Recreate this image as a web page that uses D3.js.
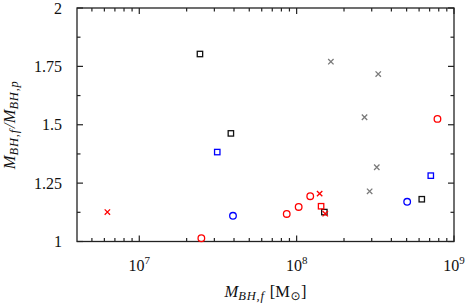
<!DOCTYPE html>
<html>
<head>
<meta charset="utf-8">
<script src="https://d3js.org/d3.v7.min.js"></script>
<style>
body{margin:0;background:#fff;}
text{font-family:"Liberation Serif",serif;fill:#111;}
</style>
</head>
<body>
<div id="chart"></div>
<script>
// data: [M_BH,f in Msun, M_BH,f / M_BH,p]
var greyCross   = [[1.65e8,1.770],[3.30e8,1.717],[2.70e8,1.532],[2.91e8,1.215],[3.23e8,1.318]];
var blackSquare = [[2.43e7,1.803],[3.82e7,1.463],[1.50e8,1.126],[6.24e8,1.181]];
var blueSquare  = [[3.13e7,1.383],[7.12e8,1.282]];
var blueCircle  = [[3.94e7,1.110],[5.04e8,1.170]];
var redCircle   = [[2.48e7,1.014],[8.65e7,1.118],[1.03e8,1.148],[1.22e8,1.194],[7.85e8,1.525]];
var redSquare   = [[1.43e8,1.151]];
var redCross    = [[6.27e6,1.126],[1.40e8,1.205],[1.52e8,1.119]];

var yTicks = [1,1.25,1.5,1.75,2];
var yMinor = [1.125,1.375,1.625,1.875];
var xMajor = [1e7,1e8,1e9];
var xExp = ["7","8","9"];

var series = [
	{pts:greyCross, shape:"cross", col:"#7a7a7a"},
	{pts:blackSquare, shape:"square", col:"#111111"},
	{pts:blueSquare, shape:"square", col:"#0000ff"},
	{pts:blueCircle, shape:"circle", col:"#0000ff"},
	{pts:redCircle, shape:"circle", col:"#ff0000"},
	{pts:redSquare, shape:"square", col:"#ff0000"},
	{pts:redCross, shape:"cross", col:"#ff0000"}
];

var W = 469, H = 304;
var pL = 77, pR = 454, pT = 8, pB = 241.5;

var x = d3.scaleLog().domain([4.02e6,1e9]).range([pL,pR]);
var y = d3.scaleLinear().domain([1,2]).range([pB,pT]);

var svg = d3.select("#chart").append("svg").attr("width",W).attr("height",H);

// minor x ticks 2..9 x 10^n
var xMinor = [];
[1e6,1e7,1e8].forEach(function(d){
	for(var k=2;k<10;k++){var v=d*k; if(v>=x.domain()[0] && v<1e9) xMinor.push(v);}
});

var ax = svg.append("g").attr("stroke","#222").attr("stroke-width",1.2);
function tickLines(vals, fn){
	vals.forEach(function(v){ var c=fn(v); ax.append("line").attr("x1",c[0]).attr("y1",c[1]).attr("x2",c[2]).attr("y2",c[3]); });
}
tickLines(xMinor, function(v){return [x(v),pB,x(v),pB-3.5]});
tickLines(xMinor, function(v){return [x(v),pT,x(v),pT+3.5]});
tickLines(xMajor, function(v){return [x(v),pB,x(v),pB-6]});
tickLines(xMajor, function(v){return [x(v),pT,x(v),pT+6]});
tickLines(yTicks, function(v){return [pL,y(v),pL+6,y(v)]});
tickLines(yTicks, function(v){return [pR,y(v),pR-6,y(v)]});
tickLines(yMinor, function(v){return [pL,y(v),pL+3.5,y(v)]});
tickLines(yMinor, function(v){return [pR,y(v),pR-3.5,y(v)]});

svg.append("rect").attr("x",pL).attr("y",pT).attr("width",pR-pL).attr("height",pB-pT)
	.attr("fill","none").attr("stroke","#222").attr("stroke-width",1.3);

// y tick labels
svg.selectAll(".ylab").data(yTicks).enter().append("text")
	.attr("x",62).attr("y",function(d){return y(d)+5.5})
	.attr("text-anchor","end").style("font-size","16px")
	.text(function(d){return d3.format("")(d)});

// x tick labels 10^n
xMajor.forEach(function(v,i){
	var t = svg.append("text").attr("x",x(v)).attr("y",271).attr("text-anchor","middle").style("font-size","16px");
	t.append("tspan").text("10");
	t.append("tspan").attr("dy",-7).style("font-size","11px").text(xExp[i]);
});

// markers
var pts = svg.append("g");
series.forEach(function(s){
	var g = pts.append("g").attr("stroke",s.col).attr("fill","none").attr("stroke-width",1.3);
	s.pts.forEach(function(p){
		var cx = x(p[0]), cy = y(p[1]);
		if(s.shape=="circle"){
			g.append("circle").attr("cx",cx).attr("cy",cy).attr("r",3.3);
		}else if(s.shape=="square"){
			g.append("rect").attr("x",cx-2.7).attr("y",cy-2.7).attr("width",5.4).attr("height",5.4);
		}else{
			g.append("path").attr("d","M"+(cx-2.7)+","+(cy-2.7)+"L"+(cx+2.7)+","+(cy+2.7)+"M"+(cx-2.7)+","+(cy+2.7)+"L"+(cx+2.7)+","+(cy-2.7));
		}
	});
});

// axis titles
var xt = svg.append("text").attr("x",(pL+pR)/2).attr("y",297).attr("text-anchor","middle").style("font-size","16.5px");
xt.append("tspan").style("font-style","italic").text("M");
xt.append("tspan").attr("dy",3).style("font-size","12.5px").style("font-style","italic").style("letter-spacing","0.8px").text("BH,f");
xt.append("tspan").attr("dy",-3).attr("dx",5).text("[M");
xt.append("tspan").attr("dy",3).attr("dx",0.5).style("font-size","12px").style("font-family","DejaVu Sans").text("⊙");
xt.append("tspan").attr("dy",-3).attr("dx",0.5).text("]");

var yt = svg.append("text").attr("transform","translate(15,"+((pT+pB)/2)+") rotate(-90)")
	.attr("text-anchor","middle").style("font-size","16.5px").style("font-style","italic");
yt.append("tspan").text("M");
yt.append("tspan").attr("dy",3).style("font-size","12.5px").style("letter-spacing","0.8px").text("BH,f");
yt.append("tspan").attr("dy",-3).attr("dx",1).text("/M");
yt.append("tspan").attr("dy",3).style("font-size","12.5px").style("letter-spacing","0.8px").text("BH,p");
</script>
</body>
</html>
